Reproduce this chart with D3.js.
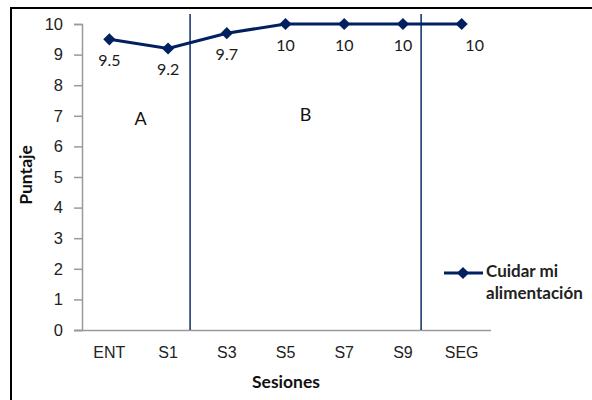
<!DOCTYPE html>
<html>
<head>
<meta charset="utf-8">
<script src="https://cdn.jsdelivr.net/npm/d3@7"></script>
<style>
  html, body { margin: 0; padding: 0; background: #fff; }
  svg { display: block; font-family: Lato, "Liberation Sans", sans-serif; }
</style>
</head>
<body>
<svg id="chart" width="592" height="400"></svg>
<script>
// Sessions and scores for "Cuidar mi alimentación"
const sessions = ["ENT", "S1", "S3", "S5", "S7", "S9", "SEG"];
const scores = [9.5, 9.2, 9.7, 10, 10, 10, 10];
const yTicks = [0, 1, 2, 3, 4, 5, 6, 7, 8, 9, 10];
// Phase boundaries, in category units from the left edge of the plot
const phaseBreaks = [1.875, 5.81];
const phaseLabels = [{ text: "A", at: 1.03, y: 6.85 }, { text: "B", at: 3.84, y: 6.98 }];
const seriesName = ["Cuidar mi", "alimentación"];

const navy = "#002060";
const svg = d3.select("#chart");

const x = d3.scaleBand().domain(sessions).range([80, 491]);
const xc = d => x(d) + x.bandwidth() / 2;
const xu = d3.scaleLinear().domain([0, sessions.length]).range([80, 491]);
const y = d3.scaleLinear().domain([0, 10]).range([330, 24]);

// Outer frame
svg.append("path")
  .attr("d", "M11,400 V8 H592")
  .attr("fill", "none").attr("stroke", "#000").attr("stroke-width", 2);

// Y axis
const yAxis = svg.append("g").attr("transform", "translate(82,0)")
  .call(d3.axisLeft(y).tickValues(yTicks).tickSize(8).tickPadding(11).tickFormat(d3.format("d")));
yAxis.select(".domain").attr("stroke", "#9a9a9a").attr("stroke-width", 1.5);
yAxis.selectAll(".tick line").attr("stroke", "#9a9a9a").attr("stroke-width", 1.5);
yAxis.selectAll("text").attr("font-size", 16.5).attr("fill", "#222");

// X axis
const xAxis = svg.append("g").attr("transform", "translate(0,330)")
  .call(d3.axisBottom(x).tickSize(0).tickPadding(17));
xAxis.select(".domain").attr("d", "M74,0.5H491").attr("stroke", "#9a9a9a").attr("stroke-width", 1.5);
xAxis.selectAll("text").attr("font-size", 16).attr("fill", "#222");

// Phase change lines
svg.selectAll(".phase").data(phaseBreaks).join("line")
  .attr("class", "phase")
  .attr("x1", d => xu(d)).attr("x2", d => xu(d))
  .attr("y1", 14).attr("y2", 330)
  .attr("stroke", "#1f3a70").attr("stroke-width", 1.6);

// Phase labels
svg.selectAll(".phase-label").data(phaseLabels).join("text")
  .attr("class", "phase-label")
  .attr("x", d => xu(d.at)).attr("y", d => y(d.y))
  .attr("text-anchor", "middle").attr("dominant-baseline", "middle")
  .attr("font-size", 18).attr("fill", "#111")
  .text(d => d.text);

// Series line
const pts = sessions.map((s, i) => ({ s, v: scores[i] }));
svg.append("path").datum(pts)
  .attr("d", d3.line().x(d => xc(d.s)).y(d => y(d.v)))
  .attr("fill", "none").attr("stroke", navy).attr("stroke-width", 3);

const diamond = d3.symbol().type(d3.symbolDiamond2).size(95);
svg.selectAll(".mk").data(pts).join("path")
  .attr("class", "mk")
  .attr("transform", d => `translate(${xc(d.s)},${y(d.v)})`)
  .attr("d", diamond).attr("fill", navy);

// Value labels
svg.selectAll(".val").data(pts).join("text")
  .attr("class", "val")
  .attr("x", (d, i) => xc(d.s) + (i === sessions.length - 1 ? 13 : 0))
  .attr("y", d => y(d.v) + 22.5)
  .attr("text-anchor", "middle").attr("dominant-baseline", "middle")
  .attr("font-size", 16).attr("fill", "#1a1a1a")
  .text(d => d3.format("")(d.v));

// Axis titles
svg.append("text").attr("x", 286).attr("y", 384)
  .attr("text-anchor", "middle").attr("dominant-baseline", "middle")
  .attr("font-size", 17.5).attr("font-weight", "bold").attr("fill", "#111")
  .text("Sesiones");
svg.append("text").attr("transform", "translate(28,175) rotate(-90)")
  .attr("text-anchor", "middle").attr("dominant-baseline", "middle")
  .attr("font-size", 17.5).attr("font-weight", "bold").attr("fill", "#111")
  .text("Puntaje");

// Legend
const lg = svg.append("g");
lg.append("line").attr("x1", 444).attr("x2", 483).attr("y1", 273).attr("y2", 273)
  .attr("stroke", navy).attr("stroke-width", 3);
lg.append("path").attr("transform", "translate(463,273)").attr("d", diamond).attr("fill", navy);
lg.selectAll("text").data(seriesName).join("text")
  .attr("x", 486).attr("y", (d, i) => 273 + i * 22)
  .attr("dominant-baseline", "middle")
  .attr("font-size", 17).attr("font-weight", "bold").attr("fill", "#222")
  .text(d => d);
</script>
</body>
</html>
